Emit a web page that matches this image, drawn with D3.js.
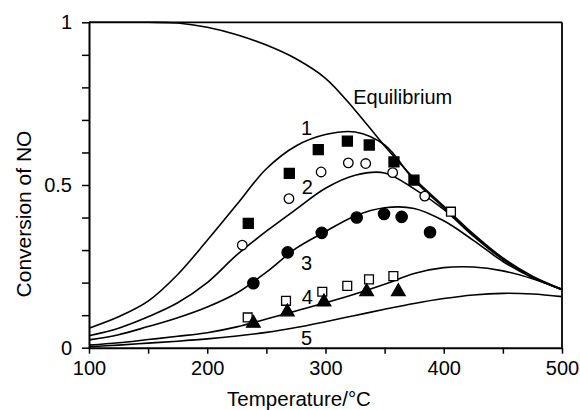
<!DOCTYPE html>
<html>
<head>
<meta charset="utf-8">
<script src="https://cdn.jsdelivr.net/npm/d3@7"></script>
<style>
  html, body { margin: 0; padding: 0; background: #fff; }
  svg { display: block; font-family: "Liberation Sans", Arial, Helvetica, sans-serif; }
</style>
</head>
<body>
<svg id="chart" width="580" height="410"></svg>
<script>
// ---- data ----
const curveTemps = [100,125,150,175,200,225,250,275,300,325,350,375,400,425,450,475,500];
const equilibrium = [1.0,1.0,1.0,0.998,0.985,0.962,0.93,0.888,0.828,0.73,0.62,0.52,0.435,0.35,0.276,0.22,0.18];
const model1 = [0.06,0.095,0.143,0.225,0.33,0.44,0.55,0.62,0.655,0.663,0.623,0.515,0.43,0.346,0.273,0.218,0.178];
const model2 = [0.037,0.06,0.095,0.138,0.20,0.285,0.358,0.425,0.49,0.53,0.537,0.488,0.425,0.343,0.271,0.217,0.178];
const model3 = [0.024,0.04,0.065,0.092,0.125,0.168,0.232,0.305,0.357,0.405,0.43,0.428,0.39,0.33,0.265,0.215,0.179];
const model4 = [0.008,0.015,0.025,0.035,0.046,0.064,0.088,0.113,0.138,0.165,0.195,0.228,0.246,0.248,0.236,0.212,0.18];
const model5 = [0.003,0.008,0.014,0.02,0.027,0.036,0.047,0.062,0.08,0.099,0.118,0.136,0.151,0.162,0.167,0.165,0.157];

const filledSquareT = [234.7,269.4,293.9,318.5,337,357.9,374.8];
const filledSquareY = [0.382,0.536,0.609,0.635,0.623,0.571,0.515];
const openCircleT = [229.6,269.1,296.3,319.3,334,356.8,383.9];
const openCircleY = [0.315,0.458,0.540,0.568,0.566,0.538,0.466];
const filledCircleT = [239,268,296.8,326.4,349.5,364.4,388.4];
const filledCircleY = [0.198,0.293,0.353,0.40,0.411,0.402,0.355];
const openSquareT = [234.2,266.6,297.3,318.4,336.8,357.4,406.1];
const openSquareY = [0.093,0.144,0.172,0.19,0.21,0.22,0.418];
const triangleT = [239,267.7,298.7,334.8,361.6];
const triangleY = [0.075,0.11,0.141,0.172,0.172];

const curveLabels = ["1","2","3","4","5","Equilibrium"];
const curveLabelT = [284,284.6,284,284.6,284,323.5];
const curveLabelY = [0.674,0.495,0.259,0.155,0.029,0.769];

const xTicks = [100,150,200,250,300,350,400,450,500];
const xTickLabels = {100:"100",200:"200",300:"300",400:"400",500:"500"};
const yTicks = [0,0.1,0.2,0.3,0.4,0.5,0.6,0.7,0.8,0.9,1];
const yTickLabels = {0:"0",0.5:"0.5",1:"1"};
const xTitle = "Temperature/°C";
const yTitle = "Conversion of NO";

// ---- drawing ----
const svg = d3.select("#chart");
const x = d3.scaleLinear().domain([100,500]).range([89,562]);
const y = d3.scaleLinear().domain([0,1]).range([347.7,22.3]);

// frame (top & right)
svg.append("line").attr("x1",x(100)).attr("x2",x(500)).attr("y1",y(1)).attr("y2",y(1))
  .attr("stroke","#000").attr("stroke-width",1.8);
svg.append("line").attr("x1",x(500)).attr("x2",x(500)).attr("y1",y(1)).attr("y2",y(0))
  .attr("stroke","#000").attr("stroke-width",1.8);

const yAxis = d3.axisLeft(y).tickValues(yTicks).tickSize(7).tickSizeOuter(0).tickPadding(10)
  .tickFormat(d => yTickLabels[Math.round(d*10)/10] || "");
const gy = svg.append("g").attr("transform",`translate(${x(100)},0)`).call(yAxis);
const xAxis = d3.axisBottom(x).tickValues(xTicks).tickSize(6).tickSizeOuter(0).tickPadding(7)
  .tickFormat(d => xTickLabels[d] || "");
const gx = svg.append("g").attr("transform",`translate(0,${y(0)})`).call(xAxis);
[gx, gy].forEach(g => {
  g.select(".domain").attr("stroke","#000").attr("stroke-width",2);
  g.selectAll(".tick line").attr("stroke","#000").attr("stroke-width",1.5);
  g.selectAll(".tick text").attr("fill","#000").style("font-size","20px")
    .style("font-family","'Liberation Sans', Arial, Helvetica, sans-serif");
});

// curves
const line = d3.line().x(d => x(d[0])).y(d => y(d[1])).curve(d3.curveCatmullRom.alpha(0.5));
[equilibrium, model1, model2, model3, model4, model5].forEach(vals => {
  svg.append("path")
    .datum(curveTemps.map((t,i) => [t, Math.min(1, vals[i])]))
    .attr("d", line).attr("fill","none").attr("stroke","#000").attr("stroke-width",1.6);
});

// markers
function drawMarkers(ts, ys, type, size, filled) {
  const sym = d3.symbol().type(type).size(size);
  svg.append("g").selectAll("path").data(ts.map((t,i)=>[t,ys[i]])).join("path")
    .attr("transform", d => `translate(${x(d[0])},${y(d[1])})`)
    .attr("d", sym)
    .attr("fill", filled ? "#000" : "#fff")
    .attr("stroke","#000").attr("stroke-width",1.3);
}
drawMarkers(filledSquareT, filledSquareY, d3.symbolSquare, 100, true);
drawMarkers(openCircleT, openCircleY, d3.symbolCircle, 72, false);
drawMarkers(filledCircleT, filledCircleY, d3.symbolCircle, 100, true);
drawMarkers(openSquareT, openSquareY, d3.symbolSquare, 78, false);
drawMarkers(triangleT, triangleY, d3.symbolTriangle, 80, true);

// curve labels
curveLabels.forEach((lab,i) => {
  svg.append("text")
    .attr("x", x(curveLabelT[i])).attr("y", y(curveLabelY[i]))
    .attr("text-anchor", lab.length > 1 ? "start" : "middle")
    .attr("dominant-baseline","central")
    .style("font-size","20px").attr("fill","#000")
    .text(lab);
});

// axis titles
svg.append("text").attr("x",299).attr("y",406).attr("text-anchor","middle")
  .style("font-size","20.5px").attr("fill","#000").text(xTitle);
svg.append("text").attr("transform","translate(31,214) rotate(-90)").attr("text-anchor","middle")
  .style("font-size","21px").attr("fill","#000").text(yTitle);
</script>
</body>
</html>
